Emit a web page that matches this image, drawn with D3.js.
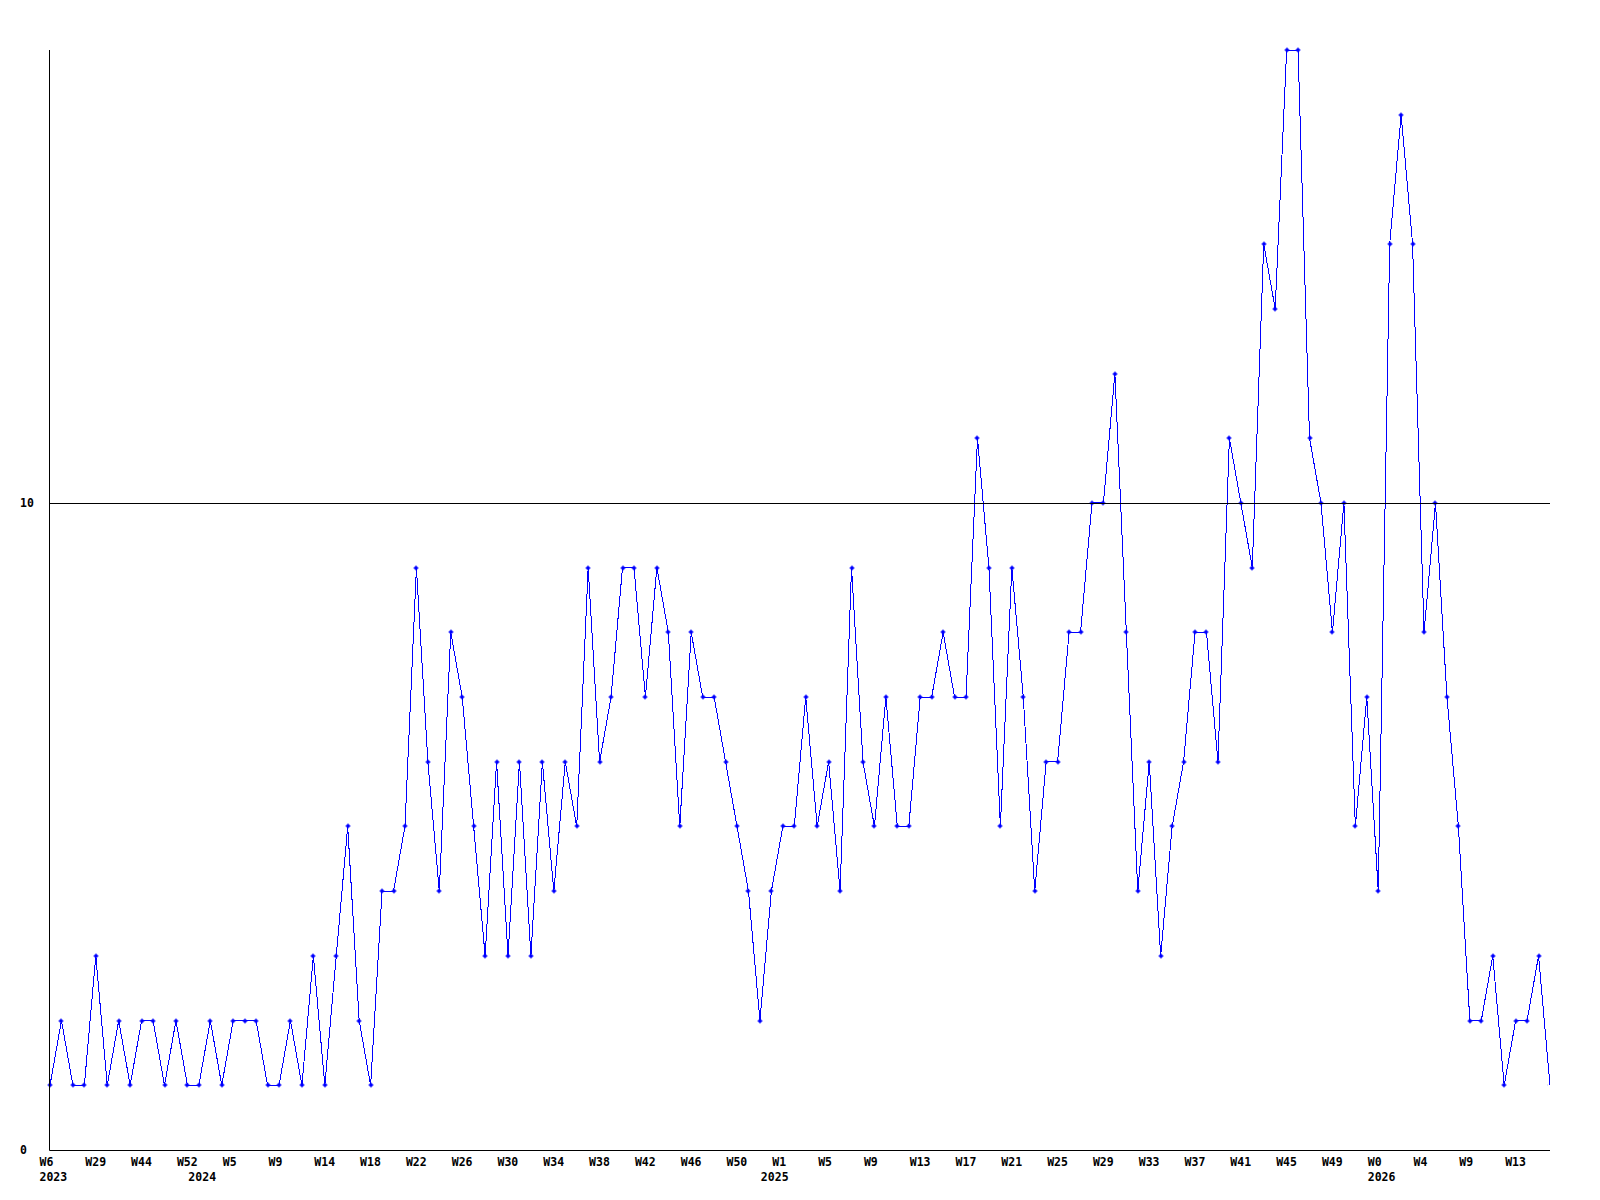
<!DOCTYPE html>
<html>
<head>
<meta charset="utf-8">
<script src="https://cdn.jsdelivr.net/npm/d3@7"></script>
<style>
  html, body { margin: 0; padding: 0; background: #ffffff; }
  svg { display: block; }
  text { font-family: "DejaVu Sans Mono", "Liberation Mono", monospace; font-weight: bold; font-size: 11.5px; fill: #000; }
</style>
</head>
<body>
<svg id="chart" width="1600" height="1200"></svg>
<script>
// ---- data ----
const yearLabels = ["2023", "2024", "2025", "2026"];
const weeks2023 = ["W6","W10","W15","W22","W29","W33","W37","W40","W44","W46","W48","W50","W52"];
const weeks2024 = ["W0","W2","W3","W5","W6","W7","W8","W9","W10","W12","W13","W14","W15","W16","W17",
  "W18","W19","W20","W21","W22","W23","W24","W25","W26","W27","W28","W29","W30","W31","W32","W33","W34",
  "W35","W36","W37","W38","W39","W40","W41","W42","W43","W44","W45","W46","W47","W48","W49","W50","W51","W52"];
const weeks2025 = ["W0","W1","W2","W3","W4","W5","W6","W7","W8","W9","W10","W11","W12","W13","W14","W15",
  "W16","W17","W18","W19","W20","W21","W22","W23","W24","W25","W26","W27","W28","W29","W30","W31","W32",
  "W33","W34","W35","W36","W37","W38","W39","W40","W41","W42","W43","W44","W45","W46","W47","W48","W49",
  "W50","W51","W52"];
const weeks2026 = ["W0","W1","W2","W3","W4","W6","W7","W8","W9","W10","W11","W12","W13","W14","W15","W16"];
const values = [
  1,2,1,1,3,1,2,1,2,2,1,2,1,
  1,2,1,2,2,2,1,1,2,1,3,1,3,5,2,1,4,4,5,9,6,4,8,7,5,3,6,3,6,3,6,4,6,5,9,6,7,9,9,7,9,8,5,8,7,7,6,5,4,2,
  4,5,5,7,5,6,4,9,6,5,7,5,5,7,7,8,7,7,11,9,5,9,7,4,6,6,8,8,10,10,12,8,4,6,3,5,6,8,8,6,11,10,9,14,13,17,17,11,10,8,10,5,7,
  4,14,16,14,8,10,7,5,2,2,3,1,2,2,3,1
];
const yTicks = [0, 10];
const yMax = 17;

// ---- build categories ----
const weekGroups = [weeks2023, weeks2024, weeks2025, weeks2026];
const points = [];
weekGroups.forEach((ws, yi) => ws.forEach((w, wi) => points.push({ week: w, year: yearLabels[yi], yearStart: wi === 0 })));
points.forEach((p, i) => p.value = values[i]);

// ---- layout ----
const svg = d3.select("#chart");
const M = { left: 50, right: 1550, top: 50, bottom: 1150 };

const x = d3.scalePoint().domain(d3.range(points.length)).range([M.left, M.right]);
const y = d3.scaleLinear().domain([0, yMax]).range([M.bottom, M.top]);

svg.append("rect").attr("width", 1600).attr("height", 1200).attr("fill", "#fff");

svg.append("defs").append("clipPath").attr("id", "mclip")
  .append("rect").attr("x", 0).attr("y", 0).attr("width", M.right - 2.5).attr("height", 1200);

// data line
const line = d3.line().x((d, i) => x(i)).y(d => y(d.value));
svg.append("path")
  .datum(points)
  .attr("d", line)
  .attr("fill", "none")
  .attr("stroke", "#0000ff")
  .attr("stroke-width", 1)
  .attr("shape-rendering", "crispEdges");

// markers
const marker = "M-2.5,-0.5h5v1h-5z M-0.5,-2.5h1v5h-1z M-1.5,-1.5h3v3h-3z";
svg.append("g").attr("clip-path", "url(#mclip)")
  .selectAll("path")
  .data(points)
  .join("path")
  .attr("transform", (d, i) => `translate(${Math.round(x(i))},${Math.round(y(d.value))})`)
  .attr("d", marker)
  .attr("fill", "#0000ff");

// y gridline at 10 (drawn over data)
svg.append("g")
  .selectAll("line")
  .data(yTicks.filter(t => t > 0))
  .join("line")
  .attr("x1", M.left).attr("x2", M.right)
  .attr("y1", d => Math.round(y(d)) + 0.5).attr("y2", d => Math.round(y(d)) + 0.5)
  .attr("stroke", "#000").attr("stroke-width", 1);

// y axis
const yAxis = svg.append("g").attr("transform", `translate(${M.left - 0.5},0)`)
  .call(d3.axisLeft(y).tickValues(yTicks).tickSize(0).tickFormat(d3.format("d")));
yAxis.attr("font-family", null).attr("font-size", null);
yAxis.select(".domain").attr("stroke", "#000").attr("stroke-width", 1).attr("d", `M0,${M.top}V${M.bottom + 0.5}`);
yAxis.selectAll("text")
  .attr("text-anchor", "start")
  .attr("x", 20 - (M.left - 0.5))
  .attr("dy", null)
  .attr("y", 3.5);

// x axis: week labels every 4th point
const tickIdx = d3.range(0, points.length, 4);
const xAxis = svg.append("g").attr("transform", `translate(0,${M.bottom + 0.5})`)
  .call(d3.axisBottom(x).tickValues(tickIdx).tickSize(0).tickFormat(i => points[i].week));
xAxis.attr("font-family", null).attr("font-size", null);
xAxis.select(".domain").attr("stroke", "#000").attr("stroke-width", 1).attr("d", `M${M.left - 0.5},0H${M.right}`);
xAxis.selectAll("text")
  .attr("text-anchor", "start")
  .attr("x", -11)
  .attr("dy", null)
  .attr("y", 15.5);

// year labels at first point of each year
const yearIdx = points.map((p, i) => p.yearStart ? i : -1).filter(i => i >= 0);
const yearAxis = svg.append("g").attr("transform", `translate(0,${M.bottom + 0.5})`)
  .call(d3.axisBottom(x).tickValues(yearIdx).tickSize(0).tickFormat(i => points[i].year));
yearAxis.attr("font-family", null).attr("font-size", null);
yearAxis.select(".domain").remove();
yearAxis.selectAll("text")
  .attr("text-anchor", "start")
  .attr("x", -11)
  .attr("dy", null)
  .attr("y", 30.5);
</script>
</body>
</html>
